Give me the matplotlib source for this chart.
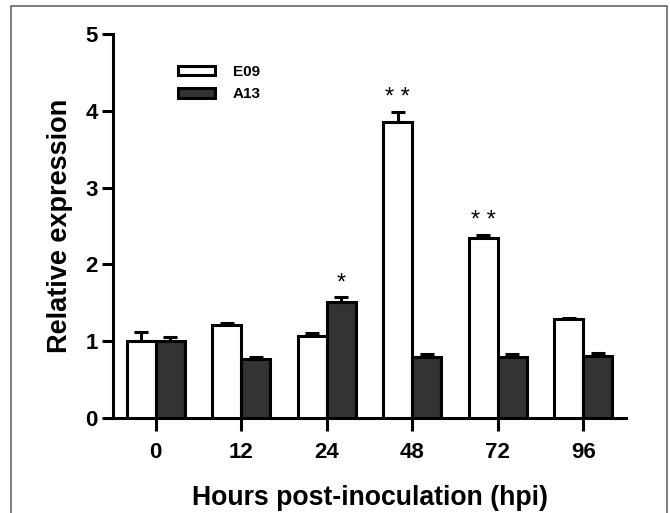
import matplotlib.pyplot as plt
import numpy as np
from matplotlib.patches import Rectangle, Patch

plt.rcParams['font.family'] = ['Liberation Sans', 'DejaVu Sans']

# data
hours = ['0', '12', '24', '48', '72', '96']
e09 = [1.00, 1.21, 1.07, 3.86, 2.34, 1.29]
e09_err = [0.12, 0.03, 0.04, 0.12, 0.04, 0.01]
a13 = [1.00, 0.77, 1.51, 0.79, 0.79, 0.81]
a13_err = [0.05, 0.02, 0.06, 0.04, 0.04, 0.04]
e09_marks = ['', '', '', '* *', '* *', '']
a13_marks = ['', '', '*', '', '', '']

fig = plt.figure(figsize=(6.7, 5.13), dpi=100)
ax = fig.add_axes([113/670, 1 - 418/513, 513/670, 384/513])

# thin grey frame around the whole figure (bottom edge falls outside)
fig.patches.append(Rectangle((11/670, -0.02), 656/670, 1.02 - 6/513, transform=fig.transFigure,
                             fill=False, edgecolor='#666666', linewidth=1.2))

x = np.arange(len(hours))
w = 0.34
lw = 2.2
ax.bar(x - w/2, e09, w, color='white', edgecolor='black', linewidth=lw, zorder=3)
ax.bar(x + w/2, a13, w, color='#333333', edgecolor='black', linewidth=lw, zorder=3)

# upward-only error bars
ax.errorbar(x - w/2, e09, yerr=[np.zeros(6), e09_err], fmt='none', ecolor='black',
            elinewidth=lw, capsize=4.7, capthick=lw, zorder=2)
ax.errorbar(x + w/2, a13, yerr=[np.zeros(6), a13_err], fmt='none', ecolor='black',
            elinewidth=lw, capsize=4.7, capthick=lw, zorder=2)

for i in range(len(hours)):
    if e09_marks[i]:
        ax.text(x[i] - w/2, e09[i] + e09_err[i] + 0.04, e09_marks[i], ha='center', va='bottom',
                fontsize=17)
    if a13_marks[i]:
        ax.text(x[i] + w/2, a13[i] + a13_err[i] + 0.04, a13_marks[i], ha='center', va='bottom',
                fontsize=17)

ax.set_xlim(-0.5, 5.5)
ax.set_ylim(0, 5)
ax.set_yticks([0, 1, 2, 3, 4, 5])
ax.set_xticks(x)
ax.set_xticklabels(hours)
for s in ['top', 'right']:
    ax.spines[s].set_visible(False)
for s in ['left', 'bottom']:
    ax.spines[s].set_linewidth(lw)
ax.tick_params(axis='y', length=8, width=lw, labelsize=16, pad=3)
ax.tick_params(axis='x', length=9, width=lw, labelsize=16, pad=8)
for t in ax.get_xticklabels() + ax.get_yticklabels():
    t.set_fontweight('bold')

ax.set_ylabel('Relative expression', fontsize=19.5, fontweight='bold', labelpad=9)
ax.set_xlabel('Hours post-inoculation (hpi)', fontsize=19.2, fontweight='bold', labelpad=16)

handles = [Patch(facecolor='white', edgecolor='black', linewidth=lw),
           Patch(facecolor='#333333', edgecolor='black', linewidth=lw)]
leg = ax.legend(handles, ['E09', 'A13'], loc='upper left', bbox_to_anchor=(0.1, 0.955),
                frameon=False, fontsize=11, handlelength=2.4, handleheight=0.55,
                handletextpad=1.2, labelspacing=0.55)
for t in leg.get_texts():
    t.set_fontweight('bold')

fig.savefig('out.png', dpi=100)
